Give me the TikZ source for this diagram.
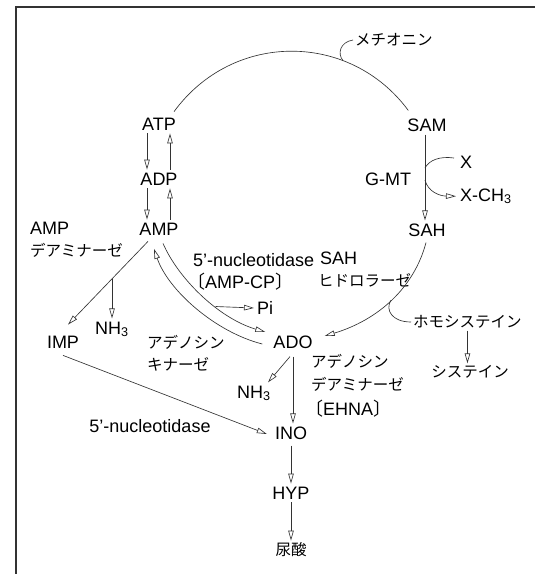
\documentclass[tikz,border=0pt]{standalone}
\usepackage{fontspec}
\setmainfont{Liberation Sans}
\newfontfamily\jp{Noto Sans CJK JP}
\usetikzlibrary{arrows.meta}
\begin{document}
\begin{tikzpicture}[x=1pt,y=-1pt,
  lat/.style={font=\fontsize{18}{20}\selectfont, inner sep=3pt},
  jpn/.style={font=\jp\fontsize{15.5}{18}\selectfont, inner sep=2pt},
  ln/.style={line width=0.65pt, draw=black!80},
  arr/.style={ln, -{Triangle[open,length=10pt,width=5.5pt]}},
  frm/.style={line width=1.1pt, draw=black!80}]
\useasboundingbox (0,0) rectangle (535,574);
\draw[frm] (535,7) -- (16,7) -- (16,574);

% nodes
\node[lat] (atp) at (159,124) {ATP};
\node[lat] (adp) at (159,179) {ADP};
\node[lat] (amp) at (159,229) {AMP};
\node[lat] (sam) at (427,125) {SAM};
\node[lat] (sah) at (427,230) {SAH};
\node[lat] (gmt) at (388,179) {G-MT};
\node[lat, anchor=west] (x) at (457,162) {X};
\node[lat, anchor=base west] (xch3) at (457,201) {X-CH\textsubscript{3}};
\node[lat, anchor=west] (ampl) at (27,228) {AMP};
\node[jpn, anchor=west] (deam1) at (28,250) {デアミナーゼ};
\node[lat] (imp) at (63,342) {IMP};
\node[lat, anchor=base] (nh3a) at (112,334) {NH\textsubscript{3}};
\node[jpn, anchor=west] (akin1) at (145,342) {アデノシン};
\node[jpn, anchor=west] (akin2) at (145,364) {キナーゼ};
\node[lat, anchor=west] (nuc1) at (190,260) {5’-nucleotidase};
\node[lat, anchor=west] (nuc2) at (184,282) {{\jp 〔}AMP-CP{\jp 〕}};
\node[lat, anchor=west] (sahh1) at (317,258) {SAH};
\node[jpn, anchor=west] (sahh2) at (316,280) {ヒドロラーゼ};
\node[lat, anchor=west] (pi) at (254,308) {Pi};
\node[lat] (ado) at (293,342) {ADO};
\node[jpn, anchor=west] (homo) at (411,322) {ホモシステイン};
\node[jpn] (cys) at (470,372) {システイン};
\node[lat, anchor=base] (nh3b) at (254,398) {NH\textsubscript{3}};
\node[jpn, anchor=west] (adeam1) at (309,361) {アデノシン};
\node[jpn, anchor=west] (adeam2) at (309,384) {デアミナーゼ};
\node[lat, anchor=west] (adeam3) at (302,409) {{\jp 〔}EHNA{\jp 〕}};
\node[lat] (nuc3) at (150,426) {5’-nucleotidase};
\node[lat] (ino) at (291,433) {INO};
\node[lat] (hyp) at (291,493) {HYP};
\node[jpn] (uric) at (291,550) {尿酸};
\node[jpn, anchor=west] (meth) at (353,40) {メチオニン};

% methionine cycle arc
\draw[ln] ([shift={(-5,-3)}]atp.north east) .. controls (233,31) and (350,31.5) .. coordinate[pos=0.7] (mc) ([shift={(4,-5)}]sam.north west);
\draw[ln] (mc) .. controls (337,54) and (340,42) .. (meth.west);

% ATP / ADP / AMP
\draw[arr] ([xshift=-12pt]atp.south) -- ([xshift=-12pt]adp.north);
\draw[arr] ([xshift=11pt]adp.north) -- ([xshift=11pt]atp.south);
\draw[arr] ([xshift=-12pt]adp.south) -- ([xshift=-12pt]amp.north);
\draw[arr] ([xshift=11pt]amp.north) -- ([xshift=11pt]adp.south);

% SAM -> SAH
\draw[arr] ([xshift=-2pt]sam.south) -- coordinate[pos=0.39] (xin) coordinate[pos=0.53] (xout) ([xshift=-2pt]sah.north);
\draw[ln] (xin) .. controls (429,160) and (440,156) .. ([shift={(-3,-4)}]x.west);
\draw[arr] (xout) .. controls (428,192) and (440,196) .. ([shift={(-1,0)}]xch3.west);

% AMP -> IMP, NH3
\draw[arr] ([shift={(-11,3)}]amp.south) -- coordinate[pos=0.45] (nhbr) ([shift={(5,-8)}]imp.north);
\draw[arr] (nhbr) -- (nhbr |- nh3a.north);

% AMP <-> ADO
\draw[arr] ([shift={(4,5)}]amp.south) .. controls (178,278) and (218,318) .. coordinate[pos=0.62] (pibr) ([shift={(-5,-10)}]ado.west);
\draw[arr] ([shift={(-8,2)}]ado.west) .. controls (215,332) and (168,290) .. ([shift={(-5,10.5)}]amp.south);
\draw[arr] (pibr) -- (pi.west);

% SAH -> ADO, homocysteine
\draw[arr] ([shift={(-1,3)}]sah.south) .. controls (414,288) and (378,320) .. coordinate[pos=0.5] (hc) ([shift={(9,-6)}]ado.east);
\draw[ln] (hc) .. controls (385,310) and (392,322) .. (homo.west);
\draw[arr] (homo.south) -- (homo.south |- cys.north);

% ADO -> NH3, INO
\draw[arr] ([shift={(-3,5)}]ado.south) -- ([shift={(14,0)}]nh3b.north);
\draw[arr] ([shift={(0,5)}]ado.south) -- (ado.south |- ino.north);

% IMP -> INO
\draw[arr] ([shift={(0,4)}]imp.south) -- ([shift={(-5,1)}]ino.west);

% INO -> HYP -> uric acid
\draw[arr] ([shift={(0,3)}]ino.south) -- (hyp.north);
\draw[arr] (hyp.south) -- (uric.north);
\end{tikzpicture}
\end{document}
